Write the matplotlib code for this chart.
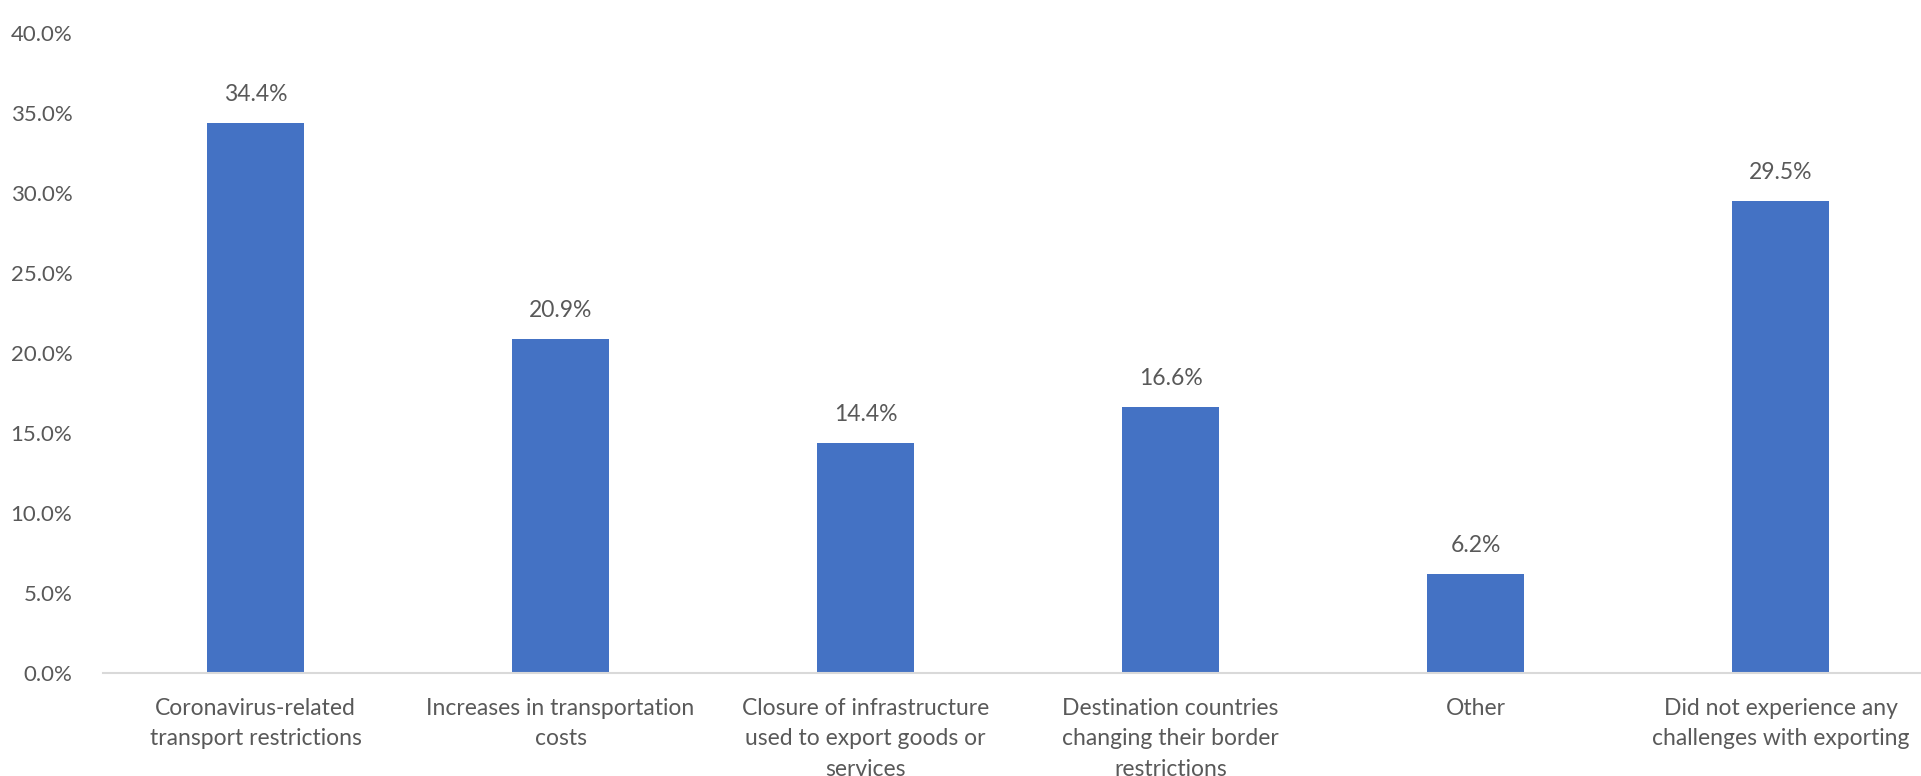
import matplotlib
matplotlib.use("Agg")
import matplotlib.pyplot as plt
from matplotlib.ticker import PercentFormatter, MultipleLocator

categories = [
    "Coronavirus-related\ntransport restrictions",
    "Increases in transportation\ncosts",
    "Closure of infrastructure\nused to export goods or\nservices",
    "Destination countries\nchanging their border\nrestrictions",
    "Other",
    "Did not experience any\nchallenges with exporting",
]
values = [34.4, 20.9, 14.4, 16.6, 6.2, 29.5]

BAR_COLOR = "#4472C4"
TEXT_COLOR = "#595959"
AXIS_COLOR = "#D9D9D9"
FS = 16.5

plt.rcParams["font.family"] = ["Lato", "DejaVu Sans"]

fig = plt.figure(figsize=(19.21, 7.76), dpi=100)
ax = fig.add_axes([103 / 1921, 103 / 776, (1933 - 103) / 1921, (673 - 33) / 776])

x = range(len(categories))
bars = ax.bar(x, values, width=0.315, color=BAR_COLOR, zorder=2)

for rect, v in zip(bars, values):
    ax.annotate(f"{v:.1f}%", (rect.get_x() + rect.get_width() / 2, v),
                xytext=(0, 13), textcoords="offset points",
                ha="center", va="bottom", fontsize=FS, color=TEXT_COLOR)

ax.set_xlim(-0.5, len(categories) - 0.5)
ax.set_ylim(0, 40)
ax.yaxis.set_major_locator(MultipleLocator(5))
ax.yaxis.set_major_formatter(PercentFormatter(decimals=1))

ax.set_xticks(list(x))
ax.set_xticklabels(categories, fontsize=FS, color=TEXT_COLOR, linespacing=1.55)
ax.tick_params(axis="x", length=0, pad=18)
ax.tick_params(axis="y", length=0, pad=22, labelsize=16, labelcolor=TEXT_COLOR)

for side in ("top", "right", "left"):
    ax.spines[side].set_visible(False)
ax.spines["bottom"].set_color(AXIS_COLOR)
ax.spines["bottom"].set_linewidth(1.5)

fig.savefig("out.png", dpi=100, facecolor="white")
